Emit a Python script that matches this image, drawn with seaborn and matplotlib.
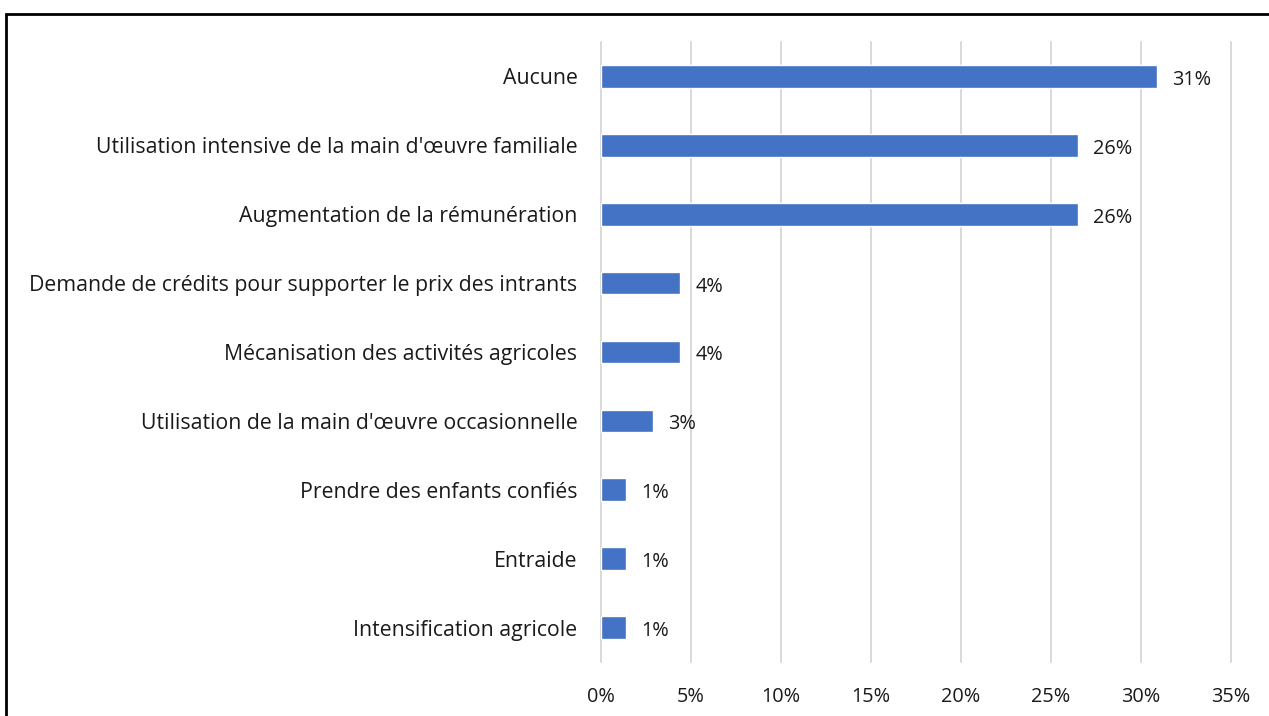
import matplotlib
matplotlib.use("Agg")
import matplotlib.pyplot as plt
import seaborn as sns
import pandas as pd
from matplotlib.patches import Rectangle

# --- DATA ---
categories = [
    "Aucune",
    "Utilisation intensive de la main d'œuvre familiale",
    "Augmentation de la rémunération",
    "Demande de crédits pour supporter le prix des intrants",
    "Mécanisation des activités agricoles",
    "Utilisation de la main d'œuvre occasionnelle",
    "Prendre des enfants confiés",
    "Entraide",
    "Intensification agricole",
]
values = [30.9, 26.5, 26.5, 4.4, 4.4, 2.9, 1.4, 1.4, 1.4]
value_labels = ["31%", "26%", "26%", "4%", "4%", "3%", "1%", "1%", "1%"]
x_ticks = [0, 5, 10, 15, 20, 25, 30, 35]

BAR_COLOR = "#4472C4"
GRID_COLOR = "#D9D9D9"
FS = 15.3      # category labels
FS_NUM = 14.3  # numbers (ticks and bar labels)

sns.set_theme(style="white")
plt.rcParams['font.family'] = ['Open Sans', 'DejaVu Sans']

W, H = 1269, 716
fig = plt.figure(figsize=(W / 100, H / 100), dpi=100)
ax = fig.add_axes([601 / W, 1 - 662 / H, (1231 - 601) / W, (662 - 42) / H])

df = pd.DataFrame({"cat": categories, "val": values})
sns.barplot(data=df, x="val", y="cat", color=BAR_COLOR, saturation=1,
            width=0.33, ax=ax, zorder=3)

ax.set_xlim(0, 35)
ax.set_ylim(len(categories) - 0.5, -0.5)
ax.set_xticks(x_ticks)
ax.set_xticklabels([f"{t}%" for t in x_ticks], fontsize=FS_NUM, color="#1a1a1a")
ax.set_yticklabels(categories, fontsize=FS, color="#1a1a1a")
ax.tick_params(axis="both", length=0)
ax.tick_params(axis="x", pad=18)
ax.tick_params(axis="y", pad=17)
ax.set_xlabel("")
ax.set_ylabel("")
ax.xaxis.grid(True, color=GRID_COLOR, linewidth=1.4, zorder=0)
for gl in ax.get_xgridlines():
    gl.set_clip_on(False)
ax.set_axisbelow(True)
for s in ax.spines.values():
    s.set_visible(False)

for i, (v, lab) in enumerate(zip(values, value_labels)):
    ax.text(v + 0.85, i + 0.05, lab, va="center", ha="left", fontsize=FS_NUM,
            color="#1a1a1a", zorder=4)

# outer frame (right and bottom edges fall outside the image)
fig.patches.append(Rectangle((6 / W, -0.1), 1.2, 1.1 - 14 / H,
                             transform=fig.transFigure, fill=False,
                             edgecolor="black", linewidth=2, zorder=10))

fig.savefig("out.png", dpi=100)
